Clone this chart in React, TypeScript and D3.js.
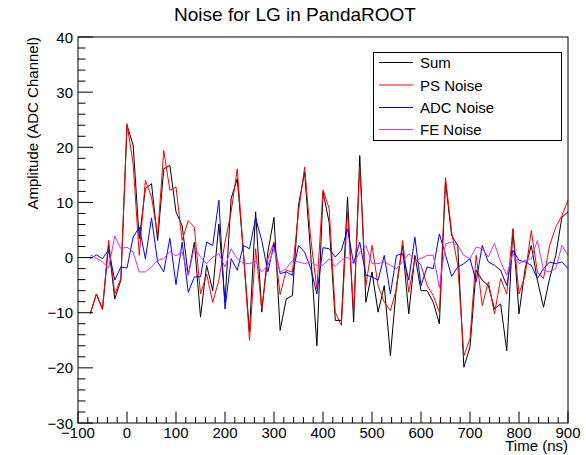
import React from "react";
import * as d3 from "d3";

const title = "Noise for LG in PandaROOT";
const xTitle = "Time (ns)";
const yTitle = "Amplitude (ADC Channel)";
const seriesNames = ["Sum", "PS Noise", "ADC Noise", "FE Noise"];
const seriesColors = ["#000000", "#ff0000", "#0000ff", "#cc33ff"];

// sample times: 12.5 ns sampling from -75 ns to 900 ns
const times = d3.range(0, 79).map((i) => -75 + 12.5 * i);

const sumValues = [
  -10.2, -6.6, -9.4, 2.2, -7.5, -4.1, 24, 20.4, 3.4, 12.5, 13.4, 3.1, 16.1, 16.7, 8.3, 5.8, -3.2, 2.8, -10.8,
  -1.4, -6, 6.1, -8.1, 10.7, 14.3, 1, -13.5, 8.3, -9.9, 1, 7.3, -13.2, -7.5, -6.9, 9.5, 15.5, 0.5, -16, 11.9,
  6.4, -11.4, -11.4, 11, -11.7, 18.5, -8.1, -2.6, -9.9, -5.1, -17.8, -5.1, 2.2, -10.2, 0.4, -6, -6, -8.1, -12, 13.7,
  4, 2.2, -19.9, -16.2, -2.3, -4.1, -5.1, -9.3, -8.4, -16.9, 5.2, -10.2, -2, 2.2, -4.1, -9, -3.8, 0.4, 7.3, 8.3,
];

const psValues = [
  -10.2, -6.6, -9.3, 3.1, -6.6, -3.8, 24.3, 17, 0.4, 14, 11, 4, 19.4, 12.2, 12.8, 3.1, 6.7, 5.5, -6.6,
  -3, -8.1, -4.1, 2.8, 8.3, 16.1, 1, -15, 1.6, -9.3, -0.2, 2.8, -6.7, -2.3, -2.6, 8.3, 16.4, 3.4, -5.7, 12.3,
  8.9, -9.9, -12.3, 8.3, -9.9, 16.4, -5.1, 2.2, -5.1, -8.1, -9.6, -5.7, 3.1, -6.3, -0.2, -1.4, -5.1, -6.9, -9.9, 14.5,
  4.6, -1.4, -17.8, -14.7, 0.4, -8.7, -4.4, -10.2, -3.8, -6.6, 5.2, -6.6, -3.2, 4.9, -2.6, -3.8, 2.2, 5.5, 7.6, 10.4,
];

const adcValues = [
  -0.2, 0.5, -0.2, 1.4, -4.1, -1.7, -1.9, 3.7, 5.5, -0.2, 7.2, -0.8, -2.6, 3.5, -4.9, 2.8, -6.3, -3.5, -3.5,
  2.8, 2.2, 10.4, -9.3, -0.2, -2.3, 2.2, 1.6, 7.2, 3.1, -2.6, 2.5, -2.9, -2.6, -3.2, 2.2, 1, -2, -6.6, 1.8,
  1.6, 0.1, 1.3, 5.2, -1.1, 2.8, -3.2, -3.5, -4.1, 0.4, -6.6, 0.4, 0.7, -4.1, 3.7, -5.1, -1.7, -2, 4.3, 0.5,
  -3.4, -1.7, -1.1, -0.2, -4.4, 2.2, -0.8, -1.4, -2.3, -5.1, 1.3, -0.5, -0.8, -1.4, -3.8, -2, -0.8, -1.1, -0.8, -2,
];

const feValues = [
  0.5, -0.1, -0.8, -1.9, 3.9, 1.6, 1.9, 1.0, -2.6, -2.6, -1.7, -0.5, -0.2, 1.1, 0.3, 1.0, -3.2, 1.9, 0.1,
  -1.1, 0.1, 0.7, -1.7, 1.6, -0.2, -1.1, -1.1, -0.7, -2.6, -1.4, 1.6, -2.6, -2, -0.5, -0.8, -1.1, -0.8, -1.4, -1.4,
  -0.2, -1.6, -0.5, 0.1, -1.1, 1.0, 2.2, -1.1, -1.1, -0.8, -1.4, -2, -0.8, 0.7, -0.5, -0.2, 0.4, 0.4, -5.4, 2.5,
  2.8, 2.2, 0.4, -0.2, 1.9, 1.6, 0.1, 2.6, -0.8, -3.2, 0.7, -1.1, -0.5, -0.2, 3.1, -2.3, -2.6, -2, 2.2, 0.4,
];

const xMajorTicks = [-100, 0, 100, 200, 300, 400, 500, 600, 700, 800, 900];
const yMajorTicks = [-30, -20, -10, 0, 10, 20, 30, 40];

const W = 586;
const H = 455;
const FL = 78;
const FR = 568;
const FT = 37;
const FB = 423;
const FONT = "'Liberation Sans', Arial, Helvetica, sans-serif";

export default function App() {
  const x = d3.scaleLinear().domain([-100, 900]).range([FL, FR]);
  const y = d3.scaleLinear().domain([-30, 40]).range([FB, FT]);
  const fmt = d3.format("d");

  const xMinor = d3.range(-100, 901, 20).filter((v) => !xMajorTicks.includes(v));
  const yMinor = d3.range(-30, 41, 2).filter((v) => !yMajorTicks.includes(v));

  const allSeries = [sumValues, psValues, adcValues, feValues];
  const line = d3
    .line<number>()
    .x((_, i) => x(times[i]))
    .y((d) => y(d));

  const legendRows = [62.5, 85, 107.5, 129.5];

  return (
    <svg
      width={W}
      height={H}
      style={{ position: "absolute", left: 0, top: 0, background: "#fff" }}
      fontFamily={FONT}
    >
      <rect x={0} y={0} width={W} height={H} fill="#fff" />
      {/* data */}
      <g fill="none" strokeWidth={1}>
        {allSeries.map((s, k) => (
          <path key={k} d={line(s) || ""} stroke={seriesColors[k]} />
        ))}
      </g>
      {/* frame */}
      <rect x={FL} y={FT} width={FR - FL} height={FB - FT} fill="none" stroke="#000" strokeWidth={1} />
      {/* y ticks */}
      <g stroke="#000" strokeWidth={1}>
        {yMajorTicks.map((v) => (
          <line key={"ym" + v} x1={FL} x2={FL + 15} y1={y(v)} y2={y(v)} />
        ))}
        {yMinor.map((v) => (
          <line key={"yn" + v} x1={FL} x2={FL + 7.5} y1={y(v)} y2={y(v)} />
        ))}
        {xMajorTicks.map((v) => (
          <line key={"xm" + v} x1={x(v)} x2={x(v)} y1={FB} y2={FB - 11.5} />
        ))}
        {xMinor.map((v) => (
          <line key={"xn" + v} x1={x(v)} x2={x(v)} y1={FB} y2={FB - 6} />
        ))}
      </g>
      {/* tick labels */}
      <g fontSize={15} fill="#000">
        {yMajorTicks.map((v) => (
          <text key={"yl" + v} x={FL - 5} y={y(v)} textAnchor="end" dominantBaseline="central">
            {fmt(v)}
          </text>
        ))}
        {xMajorTicks.map((v) => (
          <text key={"xl" + v} x={x(v)} y={438} textAnchor="middle">
            {fmt(v)}
          </text>
        ))}
      </g>
      {/* axis titles */}
      <text x={FR} y={451} textAnchor="end" fontSize={15}>
        {xTitle}
      </text>
      <text transform={`translate(38,${FT}) rotate(-90)`} textAnchor="end" fontSize={15}>
        {yTitle}
      </text>
      {/* title */}
      <text x={295} y={21} textAnchor="middle" fontSize={19}>
        {title}
      </text>
      {/* legend */}
      <rect x={373.5} y={52.5} width={188} height={88} fill="#fff" stroke="#000" strokeWidth={1} />
      {seriesNames.map((n, k) => (
        <g key={n}>
          <line x1={379} x2={413} y1={legendRows[k]} y2={legendRows[k]} stroke={seriesColors[k]} strokeWidth={1} />
          <text x={420} y={legendRows[k]} dominantBaseline="central" fontSize={15}>
            {n}
          </text>
        </g>
      ))}
    </svg>
  );
}
